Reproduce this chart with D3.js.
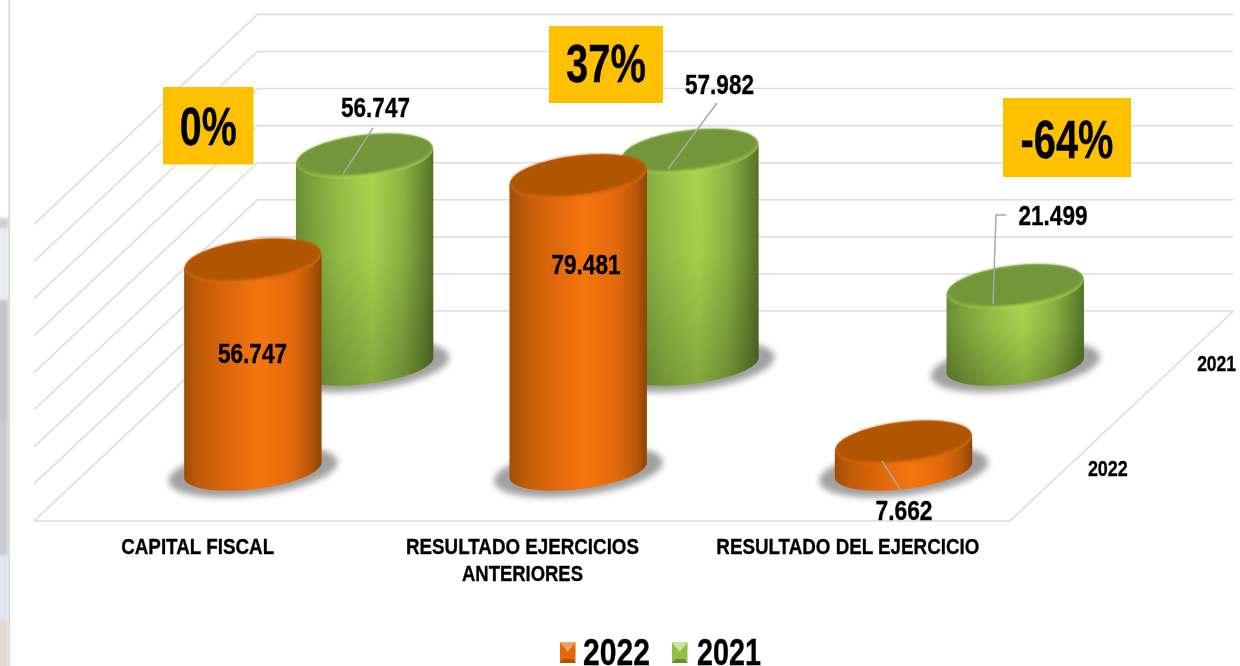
<!DOCTYPE html>
<html><head><meta charset="utf-8">
<script src="https://cdn.jsdelivr.net/npm/d3@7/dist/d3.min.js"></script>
<style>html,body{margin:0;padding:0;background:#fff;overflow:hidden}svg{display:block;filter:blur(.4px)}text{font-family:"Liberation Sans Narrow","Liberation Sans",Arial,sans-serif;font-weight:700;fill:#000;stroke:#000;stroke-width:.35px}</style>
</head><body><svg id="c" width="1240" height="666"></svg>
<script>
const categories = ["CAPITAL FISCAL", "RESULTADO EJERCICIOS|ANTERIORES", "RESULTADO DEL EJERCICIO"];
const seriesNames = ["2022", "2021"];
const values2022 = [56747, 79481, 7662];
const values2021 = [56747, 57982, 21499];
const valueLabels2022 = ["56.747", "79.481", "7.662"];
const valueLabels2021 = ["56.747", "57.982", "21.499"];
const changes = ["0%", "37%", "-64%"];
const gridTicks = d3.range(0, 80001, 10000);

const svg = d3.select("#c");
const floor = {l: 34, r: 1010, front: 521, dx: 223.5, dy: 210};
const xCat = d3.scaleBand().domain(categories).range([floor.l, floor.r]);
const zDepth = d3.scaleBand().domain(seriesNames).range([0, 1]);
const yScale = d3.scaleLinear().domain([0, 80000]).range([0, 296.6]);

/* defs */
const defs = svg.append("defs");
function hGrad(id, stops){
  const g = defs.append("linearGradient").attr("id",id).attr("x1",0).attr("x2",1).attr("y1",0).attr("y2",0);
  stops.forEach(s=>g.append("stop").attr("offset",s[0]).attr("stop-color",s[1]));
}
hGrad("bodyO",[[0,"#a04d07"],[.1,"#bd5a09"],[.3,"#dc660b"],[.55,"#f5760e"],[.78,"#e3690b"],[.92,"#b85808"],[1,"#8f4506"]]);
hGrad("bodyG",[[0,"#6c8f35"],[.12,"#7fa33b"],[.32,"#95bf47"],[.56,"#a8d64e"],[.78,"#8cb342"],[.92,"#6b8c32"],[1,"#55722a"]]);
hGrad("rimO",[[0,"#c25c09"],[.5,"#ee720e"],[1,"#c96009"]]);
hGrad("rimG",[[0,"#85a93e"],[.5,"#a8d64e"],[1,"#8ab040"]]);
const vs = defs.append("linearGradient").attr("id","shade").attr("x1",0).attr("x2",0).attr("y1",0).attr("y2",1);
vs.append("stop").attr("offset",0).attr("stop-color","#000").attr("stop-opacity",0);
vs.append("stop").attr("offset",.45).attr("stop-color","#000").attr("stop-opacity",.03);
vs.append("stop").attr("offset",1).attr("stop-color","#000").attr("stop-opacity",.22);
defs.append("filter").attr("id","soft").attr("x","-30%").attr("y","-50%").attr("width","160%").attr("height","200%")
  .append("feGaussianBlur").attr("stdDeviation",3);
defs.append("filter").attr("id","soft1").attr("x","-10%").attr("y","-20%").attr("width","120%").attr("height","140%")
  .append("feGaussianBlur").attr("stdDeviation",.9);
defs.append("filter").attr("id","soft2").attr("x","-100%").attr("y","-5%").attr("width","300%").attr("height","110%")
  .append("feGaussianBlur").attr("stdDeviation",1.6);

/* backdrop sliver on the left edge */
const sliver = [[218,10,"#cdd0d3"],[228,72,"#e7ebf3"],[300,120,"#c4c5cc"],[420,135,"#c9cace"],[555,65,"#e0e5ee"],[620,50,"#e6d8cf"]];
const sl = svg.append("g").attr("filter","url(#soft2)");
sl.selectAll("rect").data(sliver).join("rect").attr("x",-4).attr("width",12.5)
  .attr("y",d=>d[0]).attr("height",d=>d[1]).attr("fill",d=>d[2]);
svg.append("rect").attr("x",8.6).attr("width",40).attr("y",0).attr("height",666).attr("fill","#fff");
svg.append("line").attr("x1",9.2).attr("x2",9.2).attr("y1",0).attr("y2",666).attr("stroke","#d6d6d6").attr("stroke-width",1.6);

/* walls and floor grid */
const grid = svg.append("g").attr("fill","none").attr("stroke","#dddddd").attr("stroke-width",1.6);
const backL = floor.l + floor.dx, backR = floor.r + floor.dx, backY = floor.front - floor.dy;
grid.selectAll("path.g").data(gridTicks).join("path").attr("class","g")
  .attr("d",t=>{const h=yScale(t);return `M${floor.l},${floor.front-h}L${backL},${backY-h}L${backR},${backY-h}`});
grid.append("path").attr("d",`M${floor.l},${floor.front}L${floor.r},${floor.front}L${backR},${backY}`);

/* 3D projection */
const baseLift = 1.5, topDrop = 1.6;
const project = (cat, series, v) => {
  const z = zDepth(series) + zDepth.bandwidth()/2;
  const y0 = floor.front - z*floor.dy + baseLift;
  return {x: xCat(cat) + xCat.bandwidth()/2 + z*floor.dx + .3, y: y0 - yScale(v) + topDrop, y0};
};
const E = {rx: 69, ry: 21.4, ryBase: 19.2, rot: -6.8, hw: 68.7, dy: 6.8};

function cylinder(g, p, kind){
  const green = kind==="G";
  g.append("ellipse").attr("cx",p.x).attr("cy",p.y0+1.5).attr("rx",85).attr("ry",24)
    .attr("transform",`rotate(${E.rot} ${p.x} ${p.y0})`).attr("fill","#7d7d7d").attr("opacity",.72).attr("filter","url(#soft)");
  const d = `M${p.x-E.hw},${p.y+E.dy}L${p.x-E.hw},${p.y0+E.dy}A${E.rx},${E.ryBase} ${E.rot} 0 0 ${p.x+E.hw},${p.y0-E.dy}L${p.x+E.hw},${p.y-E.dy}Z`;
  g.append("path").attr("d",d).attr("fill",`url(#body${kind})`);
  if(green) g.append("path").attr("d",d).attr("fill","url(#shade)");
  g.append("ellipse").attr("cx",p.x).attr("cy",p.y).attr("rx",E.rx).attr("ry",E.ry)
    .attr("transform",`rotate(${E.rot} ${p.x} ${p.y})`).attr("fill",`url(#rim${kind})`);
  g.append("ellipse").attr("cx",p.x+.3).attr("cy",p.y-1.7).attr("rx",E.rx-1.6).attr("ry",E.ry-1.8)
    .attr("transform",`rotate(${E.rot} ${p.x} ${p.y})`).attr("fill",green?"#73963a":"#b05506").attr("filter","url(#soft1)");
}

const bars = svg.append("g");
[["2021",values2021,"G"],["2022",values2022,"O"]].forEach(([s,vals,k])=>{
  vals.forEach((v,i)=>cylinder(bars.append("g"), project(categories[i],s,v), k));
});

/* leaders */
const leaders = [
  [[343,174],[373,128]],
  [[668,169],[717,103]],
  [[993,304],[996,215],[1006,215]],
  [[882,461],[900,489]]
];
svg.append("g").selectAll("path").data(leaders).join("path")
  .attr("d",d3.line()).attr("fill","none").attr("stroke","#a8a8a8").attr("stroke-width",1.5);

function label(txt,x,y,size,len){
  svg.append("text").attr("x",x).attr("y",y).attr("text-anchor","middle").attr("dominant-baseline","central")
    .attr("font-size",size).attr("textLength",len).attr("lengthAdjust","spacingAndGlyphs").text(txt);
}
/* value labels */
const valuePos2022 = [[252.5,354],[586,265],[904,510.5]];
const valuePos2021 = [[375.5,108],[719.5,84.5],[1053,216]];
valueLabels2022.forEach((t,i)=>label(t,valuePos2022[i][0],valuePos2022[i][1],27,t.length>5?69:57));
valueLabels2021.forEach((t,i)=>label(t,valuePos2021[i][0],valuePos2021[i][1],27,69));

/* change callouts */
const boxes = [[163,87,90.5,77.5,57,0],[549,26,114,77,80,-1.5],[1003,98,128,79,93,1.5]];
changes.forEach((t,i)=>{
  const b=boxes[i];
  svg.append("rect").attr("x",b[0]).attr("y",b[1]).attr("width",b[2]).attr("height",b[3]).attr("fill","#ffc000");
  label(t,b[0]+b[2]/2,b[1]+b[3]/2+b[5],54,b[4]);
});

/* category axis labels */
const catWidths = [[153],[233,121],[263]];
categories.forEach((c,i)=>{
  const cx = xCat(c)+xCat.bandwidth()/2+(i===0?1:0.5);
  c.split("|").forEach((ln,j)=>label(ln,cx,546+j*27,22,catWidths[i][j]));
});

/* depth axis labels */
seriesNames.forEach((s,i)=>{
  const z=zDepth(s)+zDepth.bandwidth()/2;
  label(s,floor.r+z*floor.dx+(i?39:42),floor.front-z*floor.dy,22,i?39:40);
});

/* legend */
const legend = [[560,"#e3690b","#f0a060","#a8540a",616.5,67],[672,"#93bf47","#cde29a","#6a8c34",729,64]];
seriesNames.forEach((s,i)=>{
  const l=legend[i], x=l[0], y=642.5, w=15.5, h=20.5;
  svg.append("rect").attr("x",x).attr("y",y).attr("width",w).attr("height",h).attr("fill",l[1]);
  svg.append("path").attr("d",`M${x},${y}H${x+w}L${x+w/2},${y+h*.45}Z`).attr("fill",l[2]);
  svg.append("path").attr("d",`M${x},${y+h}H${x+w}L${x+w-3},${y+h-4}H${x+3}Z`).attr("fill",l[3]);
  label(s,l[4],652.5,36,l[5]);
});
</script></body></html>
